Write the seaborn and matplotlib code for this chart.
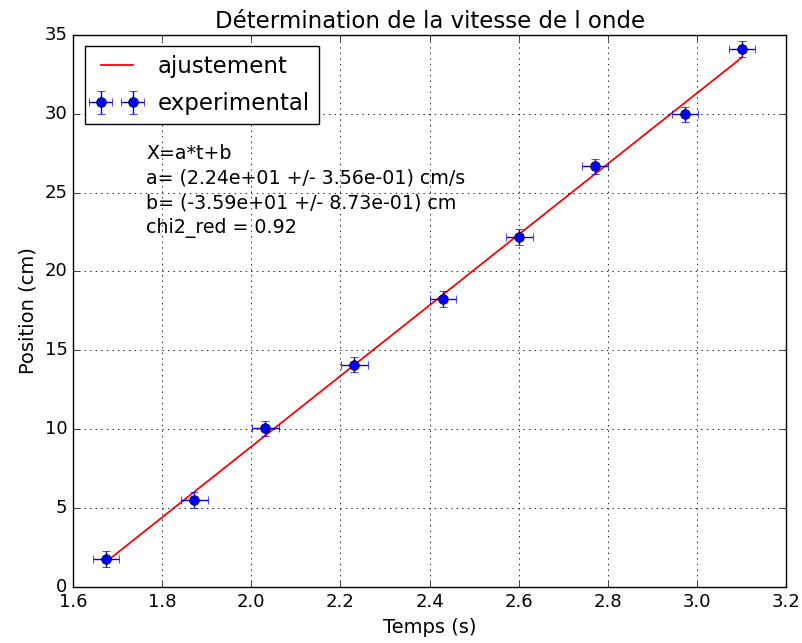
import numpy as np
import seaborn as sns
import matplotlib
matplotlib.use('Agg')
from matplotlib import pyplot as plt

temps = [1.674, 1.872, 2.031, 2.231, 2.430, 2.601, 2.771, 2.973, 3.101]
position = [1.78, 5.50, 10.05, 14.10, 18.26, 22.20, 26.65, 29.95, 34.10]
err_t = [0.03, 0.03, 0.03, 0.03, 0.03, 0.03, 0.03, 0.03, 0.03]
err_x = [0.5, 0.5, 0.5, 0.5, 0.5, 0.5, 0.5, 0.5, 0.5]
fit_a = 22.4
fit_b = -35.9
fit_text = 'X=a*t+b\na= (2.24e+01 +/- 3.56e-01) cm/s\nb= (-3.59e+01 +/- 8.73e-01) cm\nchi2_red = 0.92'

plt.style.use('classic')
plt.rcParams['font.family'] = ['DejaVu Sans']

fig = plt.figure(figsize = (8.03, 6.43), dpi = 100, facecolor = 'white')
ax = fig.add_axes([0.091, 0.087, 0.888, 0.859])

t_fit = np.array([temps[0], temps[-1]])
sns.lineplot(x = t_fit, y = fit_a * t_fit + fit_b, color = 'red', linewidth = 1.3,
             label = 'ajustement', ax = ax)
ax.errorbar(temps, position, xerr = err_t, yerr = err_x, fmt = 'o', color = 'blue',
            markersize = 7, ecolor = 'blue', capsize = 3, label = 'experimental')

ax.set_xlim(1.6, 3.2)
ax.set_ylim(0, 35)
ax.grid(True, color = 'k', linestyle = ':', linewidth = 0.6)
ax.tick_params(labelsize = 13)
ax.set_xlabel('Temps (s)', fontsize = 14)
ax.set_ylabel('Position (cm)', fontsize = 14)
ax.set_title('Détermination de la vitesse de l onde', fontsize = 16.5)
ax.text(1.764, 28.1, fit_text, fontsize = 13.7, va = 'top', ha = 'left', linespacing = 1.38)
ax.legend(loc = 'upper left', numpoints = 2, fontsize = 16.5, labelspacing = 0.6)

plt.savefig('out.png', dpi = 100, facecolor = 'white')
